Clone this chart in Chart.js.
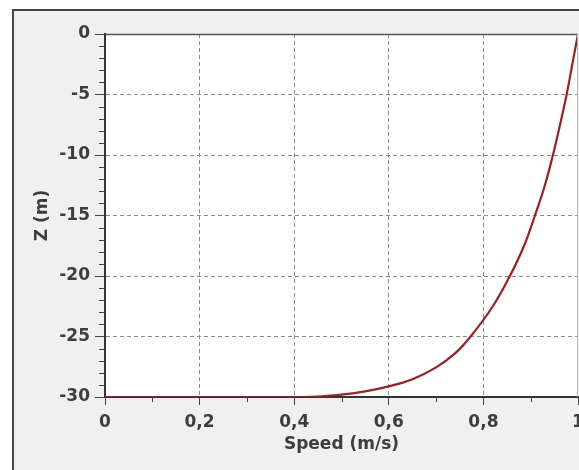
<!DOCTYPE html>
<html>
<head>
<meta charset="utf-8">
<script src="https://cdn.jsdelivr.net/npm/chart.js"></script>
<style>
  body { margin: 0; background: #fff; }
  canvas { display: block; }
</style>
</head>
<body>
<canvas id="profile" width="579" height="470"></canvas>
<script>
// speed profile
var speed = [0, 0.42, 0.5, 0.55, 0.6, 0.65, 0.7, 0.74, 0.773, 0.82, 0.856, 0.886, 0.909, 0.93, 0.947, 0.962, 0.976, 0.988, 1];
var depth = [-30, -30, -29.8, -29.53, -29.12, -28.53, -27.55, -26.4, -25, -22.5, -20, -17.5, -15, -12.5, -10, -7.5, -5, -2.5, 0];

var xTicks = [0, 0.2, 0.4, 0.6, 0.8, 1];
var yTicks = [0, -5, -10, -15, -20, -25, -30];
var xMinor = [0.1, 0.3, 0.5, 0.7, 0.9];
var yMinor = [];
for (var v = -29; v < 0; v++) if (v % 5 !== 0) yMinor.push(v);

var points = speed.map(function (s, i) { return { x: s, y: depth[i] }; });

var font = { family: "'DejaVu Sans', sans-serif", size: 17, weight: 'bold' };
var textColor = '#3d3d3d';

var frame = {
  id: 'frame',
  beforeDraw: function (chart) {
    var ctx = chart.ctx, a = chart.chartArea;
    ctx.save();
    ctx.fillStyle = '#ffffff';
    ctx.fillRect(0, 0, chart.width, chart.height);
    ctx.fillStyle = '#f0f0f0';
    ctx.fillRect(13, 10, chart.width, chart.height);
    ctx.strokeStyle = '#474747';
    ctx.lineWidth = 2;
    ctx.strokeRect(13, 10, chart.width + 10, chart.height + 10);
    ctx.fillStyle = '#ffffff';
    ctx.fillRect(a.left, a.top, a.right - a.left, a.bottom - a.top);
    ctx.restore();
  },
  afterDraw: function (chart) {
    var ctx = chart.ctx, a = chart.chartArea;
    var xs = chart.scales.x, ys = chart.scales.y;
    ctx.save();
    ctx.strokeStyle = '#555';
    ctx.lineWidth = 1.5;
    ctx.beginPath();
    ctx.moveTo(a.left, a.top + 0.5);
    ctx.lineTo(a.right, a.top + 0.5);
    ctx.stroke();
    ctx.strokeStyle = '#bbb';
    ctx.lineWidth = 1;
    ctx.beginPath();
    ctx.moveTo(a.right - 0.5, a.top);
    ctx.lineTo(a.right - 0.5, a.bottom);
    ctx.stroke();
    // minor ticks
    ctx.strokeStyle = '#444';
    ctx.beginPath();
    xMinor.forEach(function (t) {
      var px = Math.round(xs.getPixelForValue(t)) + 0.5;
      ctx.moveTo(px, a.bottom);
      ctx.lineTo(px, a.bottom + 5);
    });
    yMinor.forEach(function (t) {
      var py = Math.round(ys.getPixelForValue(t)) + 0.5;
      ctx.moveTo(a.left, py);
      ctx.lineTo(a.left - 6, py);
    });
    ctx.stroke();
    ctx.restore();
  }
};

function edgeColor(ends) {
  return function (c) {
    return c.tick && ends.indexOf(c.tick.value) >= 0 ? 'rgba(0,0,0,0)' : '#8c8c8c';
  };
}

new Chart(document.getElementById('profile'), {
  type: 'line',
  data: {
    datasets: [{
      data: points,
      borderColor: '#a11d21',
      borderWidth: 2.2,
      pointRadius: 0,
      tension: 0.4,
      fill: false
    }]
  },
  options: {
    responsive: false,
    animation: false,
    layout: { padding: { left: 0, right: 1, top: 34, bottom: 0 } },
    plugins: { legend: { display: false }, tooltip: { enabled: false } },
    scales: {
      x: {
        type: 'linear',
        min: 0,
        max: 1,
        afterBuildTicks: function (s) { s.ticks = xTicks.map(function (t) { return { value: t }; }); },
        afterFit: function (s) { s.height = 73; s.paddingLeft = 0; s.paddingRight = 0; },
        ticks: {
          autoSkip: false,
          maxRotation: 0,
          padding: 7,
          color: textColor,
          font: font,
          callback: function (v) { return String(+v.toFixed(1)).replace('.', ','); }
        },
        grid: { color: edgeColor([0, 1]), lineWidth: 1, tickLength: 8, tickColor: '#444' },
        border: { color: '#333', width: 2, dash: [4, 3] },
        title: { display: true, text: 'Speed (m/s)', color: textColor, font: font, padding: { top: 0, bottom: 15 } }
      },
      y: {
        type: 'linear',
        min: -30,
        max: 0,
        afterBuildTicks: function (s) { s.ticks = yTicks.map(function (t) { return { value: t }; }); },
        afterFit: function (s) { s.width = 105; s.paddingTop = 0; s.paddingBottom = 0; },
        ticks: { padding: 5, color: textColor, font: font },
        grid: { color: edgeColor([0, -30]), lineWidth: 1, tickLength: 10, tickColor: '#444' },
        border: { color: '#333', width: 2, dash: [4, 3] },
        title: { display: true, text: 'Z (m)', color: textColor, font: font, padding: { top: 32, bottom: 0 } }
      }
    }
  },
  plugins: [frame]
});
</script>
</body>
</html>
